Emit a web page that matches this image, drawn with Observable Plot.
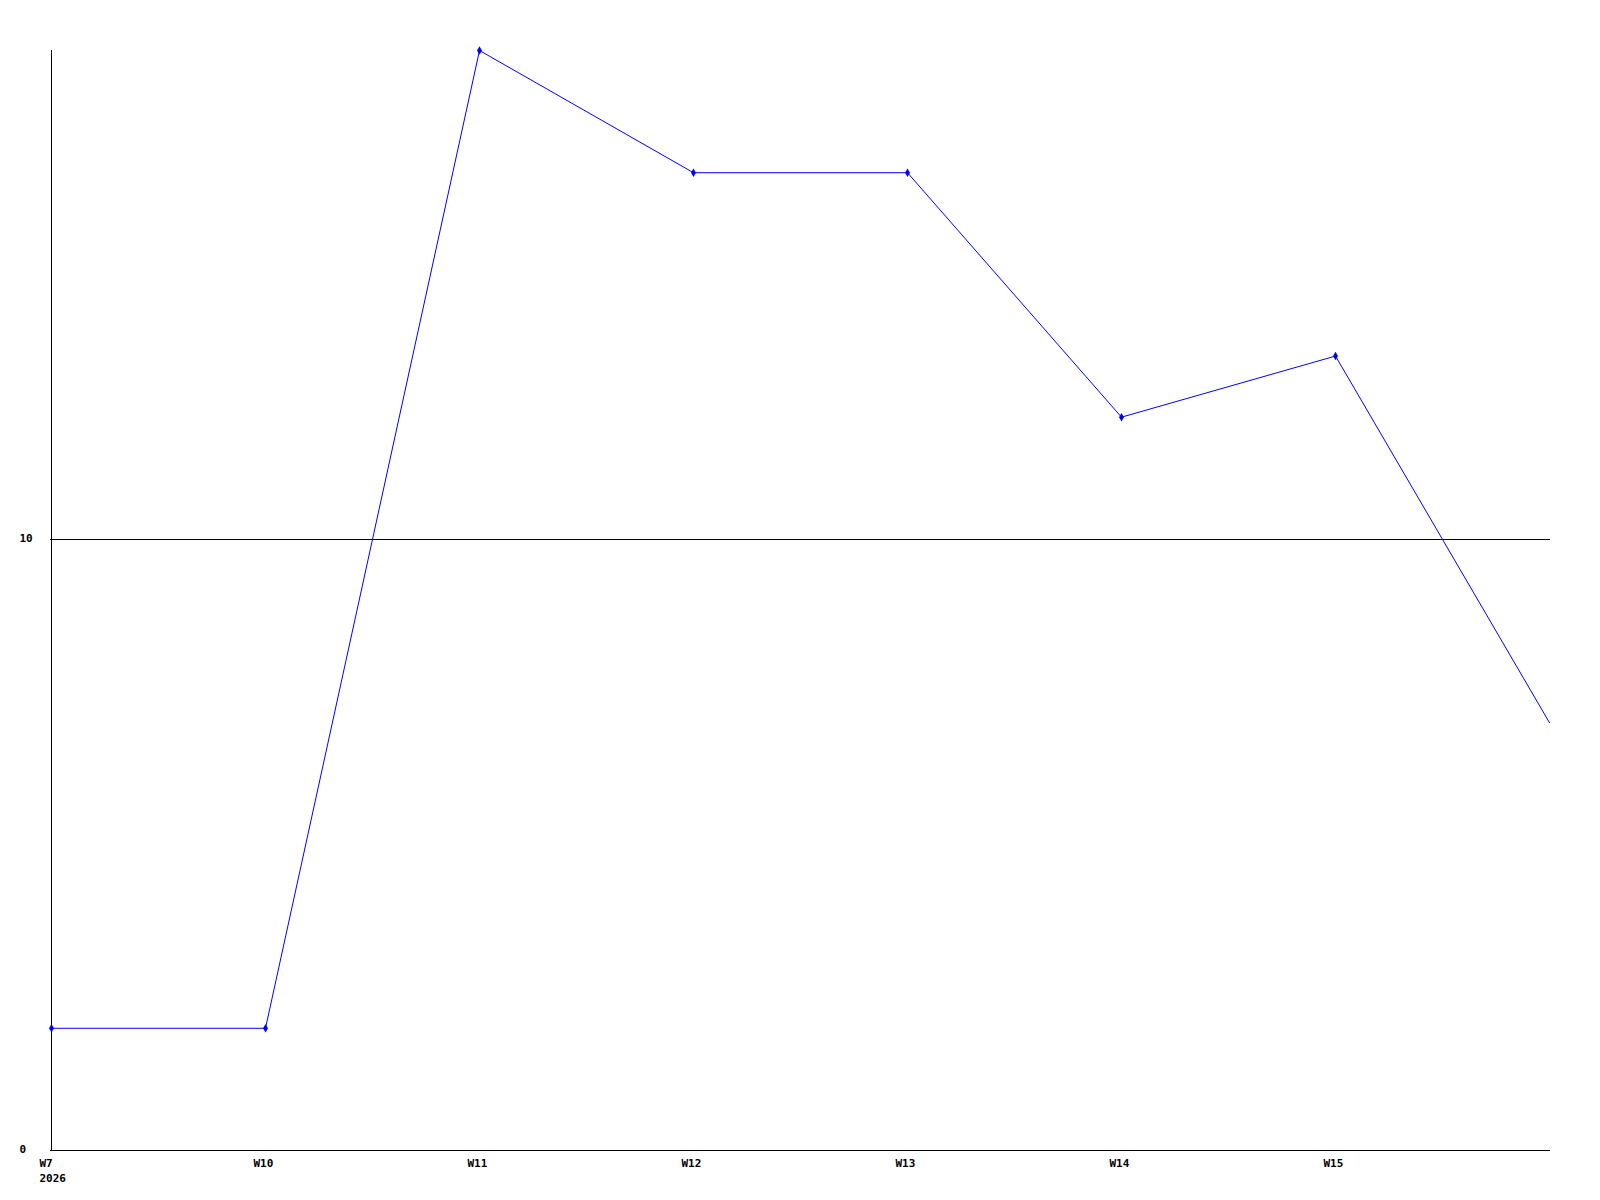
<!DOCTYPE html>
<html>
<head>
<meta charset="utf-8">
<script src="https://cdn.jsdelivr.net/npm/d3@7"></script>
<script src="https://cdn.jsdelivr.net/npm/@observablehq/plot@0.6"></script>
<style>
  html, body { margin: 0; padding: 0; background: #fff; }
  svg { display: block; }
</style>
</head>
<body>
<div id="chart"></div>
<script>
const weeks = ["W7", "W10", "W11", "W12", "W13", "W14", "W15", "W16"];
const values = [2, 2, 18, 16, 16, 12, 13, 7];
const labeledWeeks = ["W7", "W10", "W11", "W12", "W13", "W14", "W15"];
const yearLabel = "2026";
const yTicks = [0, 10];

const data = weeks.map((w, i) => ({week: w, value: values[i]}));
const markerData = data.filter(d => labeledWeeks.includes(d.week));

const chart = Plot.plot({
  width: 1600,
  height: 1200,
  marginLeft: 50,
  marginRight: 50,
  marginTop: 50,
  marginBottom: 50,
  style: {fontFamily: "'DejaVu Sans Mono', monospace", fontSize: "11px", fontWeight: "bold", color: "#000", background: "#fff"},
  x: {type: "point", domain: weeks, padding: 0},
  y: {domain: [0, 18]},
  marks: [
    Plot.ruleY(yTicks.filter(t => t > 0), {stroke: "#000", strokeWidth: 1, shapeRendering: "crispEdges"}),
    Plot.ruleY([0], {stroke: "#000", strokeWidth: 1, shapeRendering: "crispEdges"}),
    Plot.ruleX([weeks[0]], {y1: 0, y2: 18, stroke: "#000", strokeWidth: 1, shapeRendering: "crispEdges"}),
    Plot.axisY({ticks: yTicks, tickSize: 0, tickPadding: 3, textAnchor: "start", dx: -28, dy: -1, label: null, fill: "#000"}),
    Plot.axisX({
      ticks: labeledWeeks, tickSize: 0, tickPadding: 6, textAnchor: "start", dx: -12, label: null,
      lineHeight: 1.35, fill: "#000",
      tickFormat: (d) => d === weeks[0] ? d + "\n" + yearLabel : d
    }),
    Plot.line(data, {x: "week", y: "value", stroke: "#0000ff", strokeWidth: 1, clip: true}),
    Plot.dot(markerData, {x: "week", y: "value", symbol: "diamond", r: 2.6, fill: "#0000ff", stroke: "none"})
  ]
});
document.getElementById("chart").appendChild(chart);
</script>
</body>
</html>
